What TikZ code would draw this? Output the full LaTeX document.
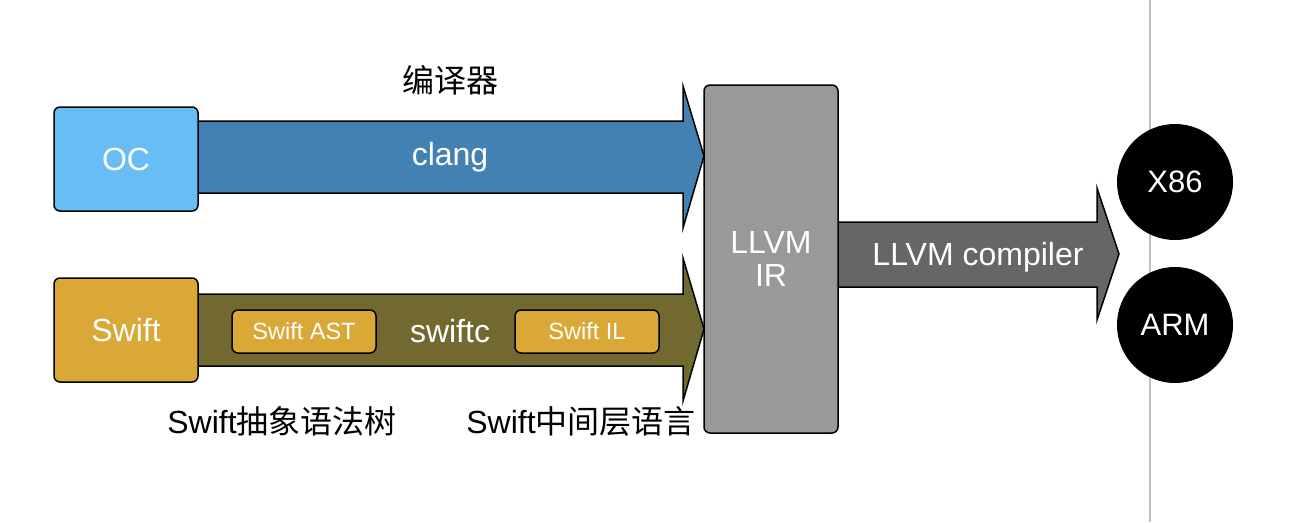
\documentclass[tikz,border=0pt]{standalone}
\usepackage{fontspec}
\setmainfont{Liberation Sans}
\newfontfamily\cjk{Noto Sans CJK SC}
\definecolor{ocblue}{HTML}{68BDF5}
\definecolor{arrowblue}{HTML}{4281B1}
\definecolor{swiftgold}{HTML}{D9A836}
\definecolor{olive}{HTML}{716930}
\definecolor{irgray}{HTML}{999999}
\definecolor{darkgray}{HTML}{666666}
\definecolor{linegray}{HTML}{C0C0C0}
\begin{document}
\begin{tikzpicture}[x=1pt,y=-1pt,
  box/.style={draw=black, line width=1.5pt, rounded corners=6pt, inner sep=0pt},
  big/.style={font=\fontsize{32}{36}\selectfont},
  small/.style={font=\fontsize{23.5}{28}\selectfont},
  wtext/.style={text=white},
  blockarrow/.style={draw=black, line width=1.5pt, line join=miter},
  circ/.style={circle, fill=black, minimum size=116pt, inner sep=0pt, text=white, font=\fontsize{31}{36}\selectfont}]
\useasboundingbox (0,0) rectangle (1292,522);
% vertical divider
\draw[linegray, line width=1.5pt] (1150,0) -- (1150,522);
% block arrows
\draw[blockarrow, fill=arrowblue] (190,121) -- (683,121) -- (683,86) -- (704,156) -- (683,228) -- (683,193) -- (190,193) -- cycle;
\draw[blockarrow, fill=olive] (190,294) -- (683,294) -- (683,258) -- (704,329) -- (683,401) -- (683,366) -- (190,366) -- cycle;
\draw[blockarrow, fill=darkgray] (830,222) -- (1097,222) -- (1097,188) -- (1119,254) -- (1097,320) -- (1097,287) -- (830,287) -- cycle;
% boxes
\node[box, fill=ocblue, minimum width=144pt, minimum height=104pt, big, wtext] (oc) at (126,159) {OC};
\node[box, fill=swiftgold, minimum width=144pt, minimum height=104pt, big, wtext] (swift) at (126,330) {Swift};
\node[box, fill=swiftgold, minimum width=144pt, minimum height=43pt, small, wtext] (ast) at (304,331.5) {Swift AST};
\node[box, fill=swiftgold, minimum width=144pt, minimum height=43pt, small, wtext] (il) at (587,331.5) {Swift IL};
\node[box, fill=irgray, minimum width=134pt, minimum height=348pt] (ir) at (771,259) {};
\node[big, wtext, align=center, inner sep=0pt] (irtext) at (771,259) {LLVM\\[-3pt]IR};
% arrow labels
\node[big, wtext] (clang) at (450,157) {clang};
\node[big, wtext] (swiftc) at (450,331) {swiftc};
\node[big, wtext] (llc) at (978,257) {LLVM compiler};
% targets
\node[circ] (x86) at (1175,182) {X86};
\node[circ] (arm) at (1175,325) {ARM};
% captions
\node[big] (compiler) at (450,80) {\cjk 编译器};
\node[big] (astcap) at (282,421) {Swift{\cjk 抽象语法树}};
\node[big] (ilcap) at (581,421) {Swift{\cjk 中间层语言}};
\end{tikzpicture}
\end{document}
